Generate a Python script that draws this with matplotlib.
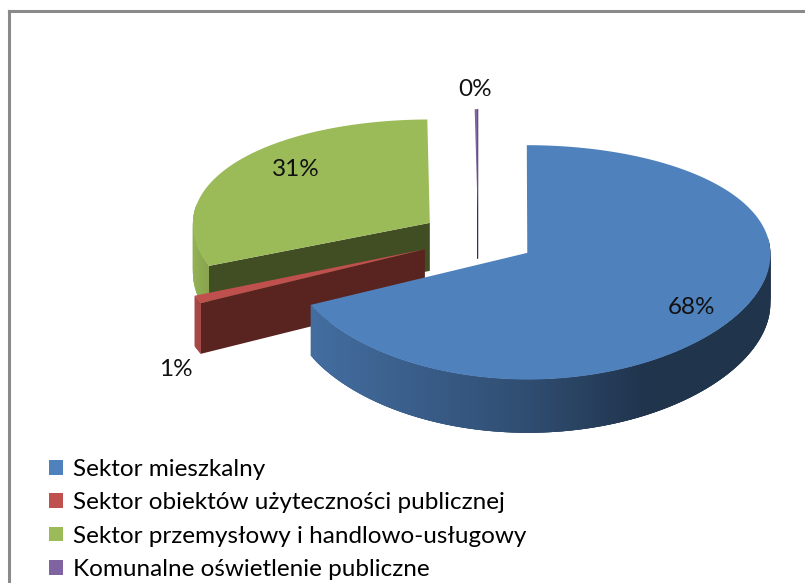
import numpy as np
import matplotlib
matplotlib.use('Agg')
import matplotlib.pyplot as plt
from matplotlib.patches import Patch

categories = ['Sektor mieszkalny', 'Sektor obiektów użyteczności publicznej',
              'Sektor przemysłowy i handlowo-usługowy', 'Komunalne oświetlenie publiczne']
values = [67.9, 1.0, 30.9, 0.2]
pct_labels = ['68%', '1%', '31%', '0%']
colors = ['#4f81bd', '#c0504d', '#9bbb59', '#8064a2']
cut_colors = [None, '#592320', '#414d22', '#3a2c52']
radii = [1, 1.04, 1, 1]

plt.rcParams['font.family'] = ['Lato', 'DejaVu Sans']

# pie geometry, pixels
X0, Y0 = 478, 238
RX, RY = 240, 114
K = 0.08
KX = 0.01
A = 2
H = 48.5
EXPLODE = 0.242


def project(u, v, z=0):
    s = 1 / (1 + K * v)
    sx = 1 / (1 + KX * v)
    return X0 + RX * u * sx + A * u * u, Y0 - RY * v * s + H * z * s


def rim_shade(c, u):
    f = np.interp(u, [-1, -0.9, 0, 0.5, 1], [0.95, 0.85, 0.6, 0.4, 0.4])
    return tuple(np.array(matplotlib.colors.to_rgb(c)) * f)


fig = plt.figure(figsize=(8.05, 5.83), dpi=100)
ax = fig.add_axes([9 / 805, 0, 796 / 805, 572 / 583])
ax.set_xlim(9, 805)
ax.set_ylim(583, 11)
ax.set_xticks([])
ax.set_yticks([])
for side in ['right', 'bottom']:
    ax.spines[side].set_visible(False)
for side in ['top', 'left']:
    ax.spines[side].set_color('#8a8a8a')
    ax.spines[side].set_linewidth(2.2)

# clockwise from the top
edges = np.cumsum([0] + values) / 100 * 2 * np.pi
order = [3, 2, 1, 0]
for i in order:
    a0, a1 = edges[i], edges[i + 1]
    mid = (a0 + a1) / 2
    ex, ey = EXPLODE * np.sin(mid), EXPLODE * np.cos(mid)
    t = np.linspace(a0, a1, 200)
    us, vs = ex + radii[i] * np.sin(t), ey + radii[i] * np.cos(t)
    z = 5 - i

    # visible cut
    if cut_colors[i] is not None:
        j = -1 if i == 3 else 0
        pts = [project(ex, ey), project(us[j], vs[j]), project(us[j], vs[j], 1), project(ex, ey, 1)]
        ax.fill(*zip(*pts), color=cut_colors[i], lw=0.7 if i == 3 else 0, zorder=z)

    # outer wall, one strip per step, each overlapping the next
    for j in range(len(t) - 3):
        if np.cos(t[j]) > 0.15:
            continue
        pts = [project(us[j], vs[j]), project(us[j + 3], vs[j + 3]),
               project(us[j + 3], vs[j + 3], 1), project(us[j], vs[j], 1)]
        c = rim_shade(colors[i], np.sin(t[j]))
        ax.fill(*zip(*pts), color=c, lw=0, zorder=z)

    # top face
    pts = [project(ex, ey)] + [project(a, b) for a, b in zip(us, vs)]
    ax.fill(*zip(*pts), color=colors[i], lw=0, zorder=z + 0.5)

# percent labels
label_pos = [(691, 308), (176, 370), (296, 169), (475, 90)]
for lab, (lx, ly) in zip(pct_labels, label_pos):
    ax.text(lx, ly, lab, fontsize=17.5, color='#111111', ha='center', va='center', zorder=10)

handles = [Patch(facecolor=c, edgecolor='none') for c in colors]
ax.legend(handles, categories, loc='lower left', bbox_to_anchor=(49, 580), bbox_transform=ax.transData,
          frameon=False, fontsize=17.5, handlelength=0.56, handleheight=0.56, handletextpad=0.42,
          labelspacing=0.51, borderaxespad=0, borderpad=0)

fig.savefig('out.png', dpi=100)
